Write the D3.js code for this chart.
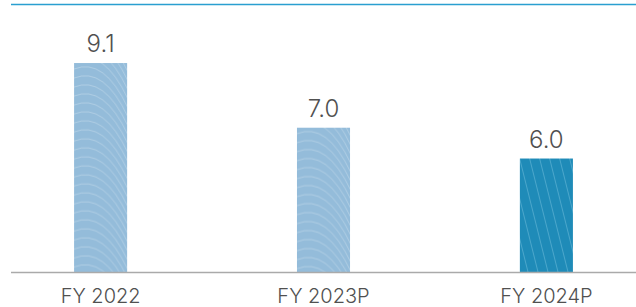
<!DOCTYPE html>
<html>
<head>
<meta charset="utf-8">
<script src="https://cdn.jsdelivr.net/npm/d3@7"></script>
<style>
  html, body { margin: 0; padding: 0; background: #fff; }
  svg { display: block; }
  text { font-family: Inter, "Open Sans", sans-serif; font-weight: 300; fill: #505050; }
</style>
</head>
<body>
<script>
const categories = ["FY 2022", "FY 2023P", "FY 2024P"];
const values = [9.1, 7.0, 6.0];
const valueLabels = ["9.1", "7.0", "6.0"];
const highlight = [false, false, true];

window.addEventListener('DOMContentLoaded', () => {
    const width = 636, height = 307;
    const left = 11, right = 636, top = 4.5, bottom = 272.5;

    let svg = d3.select("body").append("svg")
                .attr("width", width)
                .attr("height", height);

    let x = d3.scaleBand()
              .domain(categories)
              .range([left, right])
              .paddingInner(0.762)
              .paddingOuter(0.283);

    let y = d3.scaleLinear()
              .domain([2.3, 11])
              .range([bottom, top]);

    // patterns: soft curved lines on light bars, diagonal on dark
    let defs = svg.append("defs");
    let wave = defs.append("pattern")
                   .attr("id", "wave")
                   .attr("patternUnits", "objectBoundingBox")
                   .attr("patternContentUnits", "userSpaceOnUse")
                   .attr("width", 1).attr("height", 1);
    wave.append("rect").attr("width", 60).attr("height", 260).attr("fill", "#94bcda");
    for (let i = -10; i < 30; i++) {
        let o = i * 9;
        wave.append("path")
            .attr("d", `M0,${o + 6} Q30,${o - 6} 54,${o + 45}`)
            .attr("fill", "none")
            .attr("stroke", "#ffffff")
            .attr("stroke-opacity", 0.32)
            .attr("stroke-width", 0.8);
    }
    let diag = defs.append("pattern")
                   .attr("id", "diag")
                   .attr("patternUnits", "userSpaceOnUse")
                   .attr("width", 10).attr("height", 40);
    diag.append("rect").attr("width", 10).attr("height", 40).attr("fill", "#1f8bb8");
    diag.append("path")
        .attr("d", "M0,0 L10,40 M-10,0 L0,40 M10,0 L20,40")
        .attr("stroke", "#7cc3e0")
        .attr("stroke-opacity", 0.6)
        .attr("stroke-width", 0.8);

    svg.append("line")
       .attr("x1", left).attr("x2", right)
       .attr("y1", y(11)).attr("y2", y(11))
       .attr("stroke", "#2a9fd0")
       .attr("stroke-width", 1.5);

    svg.append("g")
       .selectAll("rect")
       .data(values)
       .enter()
       .append("rect")
       .attr("x", (d, i) => x(categories[i]))
       .attr("y", (d) => y(d))
       .attr("width", x.bandwidth())
       .attr("height", (d) => y(2.3) - y(d))
       .attr("fill", (d, i) => highlight[i] ? "url(#diag)" : "url(#wave)");

    svg.append("g")
       .selectAll("text")
       .data(values)
       .enter()
       .append("text")
       .attr("x", (d, i) => x(categories[i]) + x.bandwidth() / 2)
       .attr("y", (d) => y(d) - 11)
       .attr("text-anchor", "middle")
       .attr("font-size", 24)
       .text((d, i) => valueLabels[i]);

    let axis = d3.axisBottom(x).tickSize(0).tickPadding(16);
    let g = svg.append("g")
               .attr("transform", `translate(0,${bottom})`)
               .call(axis);
    g.select(".domain").attr("stroke", "#aaaaaa").attr("stroke-width", 1.5)
     .attr("d", `M${left},0H${right}`);
    g.selectAll("text")
     .attr("font-size", 20)
     .attr("font-family", "Inter, 'Open Sans', sans-serif")
     .attr("fill", "#505050")
     .attr("font-weight", 300);
});
</script>
</body>
</html>
